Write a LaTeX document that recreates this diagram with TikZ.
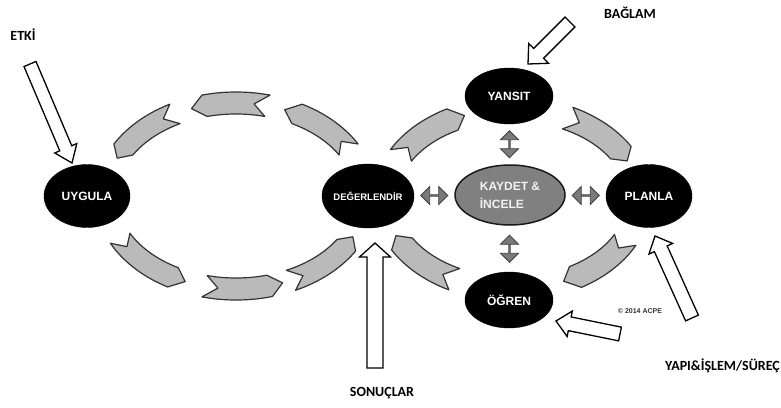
\documentclass[tikz,border=0pt]{standalone}
\usepackage{fontspec}
\setmainfont{Liberation Sans}
\newfontfamily\calfont{Carlito}
\usetikzlibrary{shapes.geometric,shapes.arrows,calc}
\newcommand\aw{11}
% cx cy a b t1(tail) t2(head) d(signed)
\newcommand\arcarr[7]{%
  \draw[arcsty] plot[domain=#5:#6,samples=30] ({#1+(#3+\aw)*cos(\x)},{#2-(#4+\aw)*sin(\x)})
   -- ({#1+#3*cos(#6+#7)},{#2-#4*sin(#6+#7)})
   -- plot[domain=#6:#5,samples=30] ({#1+(#3-\aw)*cos(\x)},{#2-(#4-\aw)*sin(\x)})
   -- ({#1+#3*cos(#5+#7)},{#2-#4*sin(#5+#7)}) -- cycle;}
% tail tip sw hw hl
\newcommand\blockarr[5]{%
  \coordinate (ba-h) at ($(#2)!#5!(#1)$);
  \draw[blk] ($(#1)!#3!90:(#2)$) -- ($(ba-h)!#3!90:(#2)$) -- ($(ba-h)!#4!90:(#2)$) -- (#2)
   -- ($(ba-h)!#4!-90:(#2)$) -- ($(ba-h)!#3!-90:(#2)$) -- ($(#1)!#3!-90:(#2)$) -- cycle;}
\tikzset{
  arcsty/.style={draw=black!80, fill=black!27, line width=1.2, line join=round},
  blk/.style={draw=black, fill=white, line width=1.3, line join=miter},
  blackell/.style={ellipse, fill=black, draw=black, inner sep=0},
  grayell/.style={ellipse, fill=black!50, draw=black!90, line width=1.5, inner sep=0},
  ntext/.style={text=white, font=\bfseries\fontsize{12}{14}\selectfont, inner sep=0},
  lbl/.style={font=\calfont\bfseries\fontsize{14}{16}\selectfont, inner sep=0},
  dblarr/.style={double arrow, draw=black!75, fill=black!52, line width=0.8,
    minimum height=27, minimum width=18, double arrow head extend=4.5, inner sep=0},
}
\begin{document}
\begin{tikzpicture}[x=1pt,y=-1pt]
\useasboundingbox (0,0) rectangle (781,407);
% left loop
\arcarr{236}{196}{130}{93}{30}{62}{6}
\arcarr{236}{196}{130}{93}{76}{104}{6}
\arcarr{236}{196}{130}{93}{118}{150}{6}
\arcarr{236}{196}{130}{93}{207}{241}{6}
\arcarr{236}{196}{130}{93}{256}{285}{6}
\arcarr{236}{196}{130}{93}{295}{328}{6}
% right loop
\renewcommand\aw{12}
\arcarr{512}{199}{127}{90}{151}{118}{-6}
\arcarr{512}{199}{127}{90}{64}{31}{-6}
\arcarr{512}{199}{127}{90}{333}{300}{-6}
\arcarr{512}{199}{127}{90}{243}{210}{-6}
% nodes
\node[blackell, minimum width=86, minimum height=63] (uyg) at (87,196) {};
\node[ntext] (uyg-t) at (uyg) {UYGULA};
\node[blackell, minimum width=92, minimum height=64] (deg) at (368,196) {};
\node[ntext, font=\bfseries\fontsize{9.5}{11}\selectfont] (deg-t) at (deg) {DEĞERLENDİR};
\node[grayell, minimum width=110, minimum height=60] (kay) at (510,195) {};
\node[ntext, text=black!5, align=left, font=\bfseries\fontsize{12}{18}\selectfont] (kay-t) at (kay) {KAYDET \&\\İNCELE};
\node[blackell, minimum width=86, minimum height=63] (pla) at (649,196) {};
\node[ntext] (pla-t) at (pla) {PLANLA};
\node[blackell, minimum width=88, minimum height=56] (yan) at (509,96) {};
\node[ntext] (yan-t) at (yan) {YANSIT};
\node[blackell, minimum width=88, minimum height=56] (ogr) at (509,300) {};
\node[ntext] (ogr-t) at (ogr) {ÖĞREN};
% double arrows
\node[dblarr] (da1) at ($(deg.east)!.5!(kay.west)$) {};
\node[dblarr] (da2) at ($(kay.east)!.5!(pla.west)$) {};
\node[dblarr, shape border rotate=90] (da3) at ($(yan.south)!.5!(kay.north)$) {};
\node[dblarr, shape border rotate=90] (da4) at ($(kay.south)!.5!(ogr.north)$) {};
% block arrows
\coordinate (etki-s) at (30,64);  \coordinate (etki-e) at (72,163);
\coordinate (bag-s) at (570,22);  \coordinate (bag-e) at (528,64);
\coordinate (son-s) at (375,368); \coordinate (son-e) at (375,243);
\coordinate (yp1-s) at (692,318); \coordinate (yp1-e) at (655,236);
\coordinate (yp2-s) at (620,334); \coordinate (yp2-e) at (556,321);
\blockarr{etki-s}{etki-e}{6.5pt}{12pt}{16pt}
\blockarr{bag-s}{bag-e}{7pt}{14pt}{15pt}
\blockarr{son-s}{son-e}{8pt}{15.5pt}{14pt}
\blockarr{yp1-s}{yp1-e}{7pt}{13pt}{14pt}
\blockarr{yp2-s}{yp2-e}{7pt}{13pt}{14pt}
% labels
\node[lbl] (etki) at (23,35) {ETKİ};
\node[lbl] (bag) at (630,13) {BAĞLAM};
\node[lbl] (son) at (382,393) {SONUÇLAR};
\node[lbl, anchor=west] (yapi) at (665,366) {YAPI\&İŞLEM/SÜREÇ};
\node[font=\bfseries\fontsize{7}{8}\selectfont, text=black!80, inner sep=0] (acpe) at (640,311) {© 2014 ACPE};
\end{tikzpicture}
\end{document}
